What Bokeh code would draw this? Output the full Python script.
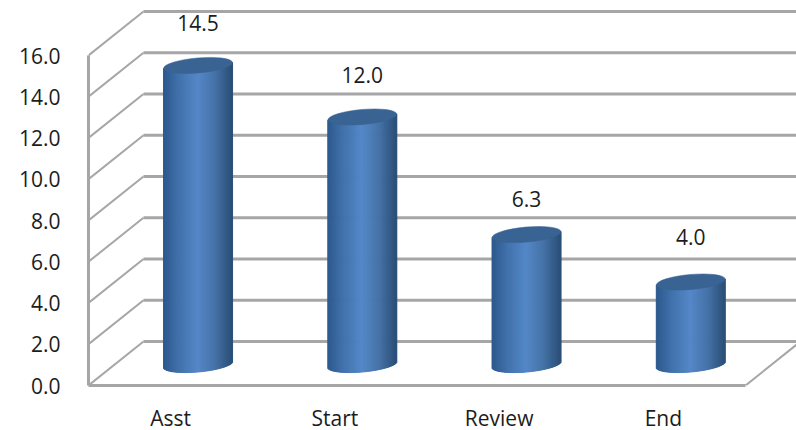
import numpy as np
from bokeh.embed import file_html
from bokeh.models import ColumnDataSource, FixedTicker, LinearAxis, Range1d
from bokeh.plotting import figure
from bokeh.resources import INLINE

categories = ["Asst", "Start", "Review", "End"]
values = [14.5, 12.0, 6.3, 4.0]
y_ticks = [0, 2, 4, 6, 8, 10, 12, 14, 16]

FONT = "Open Sans"
FONT_SIZE = "21px"
GREY = "#a6a6a6"
INK = "#1c1c1c"

# Pixel scale of the plot frame: one category slot and one value unit.
PX_X = 164.25
PX_Y = 20.625
FRAME_W, FRAME_H = 708, 385

# Oblique projection of the 3D box.
DEPTH_X = 55 / PX_X
DEPTH_Y = 44 / PX_Y
BAR_SHIFT_X = 0.167
BAR_BASE_Y = 21 / PX_Y

# Cylinder proportions.
HALF_W = 34.5 / PX_X
CAP_SEMI = 7.5 / PX_Y
CAP_TILT = 3 / PX_Y
CAP_ANGLE = np.arctan2(3, 34.5)
SHADE_T = [-1.0, -0.55, 0.0, 0.5, 1.0]
SHADE_R = [44, 66, 85, 70, 43]
SHADE_G = [88, 114, 136, 115, 78]
SHADE_B = [140, 172, 200, 168, 118]

p = figure(
    width=796, height=430,
    frame_width=FRAME_W, frame_height=FRAME_H,
    min_border_left=88, min_border_right=0, min_border_top=0, min_border_bottom=45,
    x_range=Range1d(0, FRAME_W / PX_X), y_range=Range1d(0, FRAME_H / PX_Y),
    x_axis_type=None, y_axis_type=None,
    output_backend="svg", toolbar_location=None,
)
p.outline_line_color = None
p.xgrid.visible = False
p.ygrid.visible = False
p.background_fill_color = "white"
p.border_fill_color = "white"

# Wall gridlines and the slanted side-wall lines.
ticks = np.array(y_ticks, dtype=float)
p.segment(x0=DEPTH_X, y0=ticks + DEPTH_Y, x1=FRAME_W / PX_X + 1, y1=ticks + DEPTH_Y,
          line_color=GREY, line_width=2.8)
p.segment(x0=0, y0=ticks, x1=DEPTH_X, y1=ticks + DEPTH_Y, line_color=GREY, line_width=2)
# Right-hand edge of the floor.
n_cat = len(categories)
p.segment(x0=[n_cat], y0=[0], x1=[n_cat + DEPTH_X], y1=[DEPTH_Y], line_color=GREY, line_width=2)

# Value axis on the front plane.
y_axis = LinearAxis(
    ticker=FixedTicker(ticks=y_ticks),
    major_label_overrides={t: f"{t:.1f}" for t in y_ticks},
    bounds=(0, 16),
    axis_line_color=GREY, axis_line_width=3,
    major_tick_line_color=None, minor_tick_line_color=None,
    major_label_text_font=FONT, major_label_text_font_size=FONT_SIZE,
    major_label_text_color=INK, major_label_standoff=22,
)
p.add_layout(y_axis, "left")

# Category axis on the front plane.
x_axis = LinearAxis(
    ticker=FixedTicker(ticks=[i + 0.5 for i in range(n_cat)]),
    major_label_overrides={i + 0.5: c for i, c in enumerate(categories)},
    bounds=(0, n_cat),
    axis_line_color=GREY, axis_line_width=3,
    major_tick_line_color=None, minor_tick_line_color=None,
    major_label_text_font=FONT, major_label_text_font_size=FONT_SIZE,
    major_label_text_color=INK, major_label_standoff=12,
)
p.add_layout(x_axis, "below")

# Cylinders: vertical colour strips under a tilted elliptical cap.
n_strips = 69
edges = np.linspace(-1, 1, n_strips + 1)
mids = (edges[:-1] + edges[1:]) / 2
shade = [
    "#%02x%02x%02x" % (int(r), int(g), int(b))
    for r, g, b in zip(np.interp(mids, SHADE_T, SHADE_R),
                       np.interp(mids, SHADE_T, SHADE_G),
                       np.interp(mids, SHADE_T, SHADE_B))
]
centers = np.arange(n_cat) + 0.5 + BAR_SHIFT_X
for cx, v in zip(centers, values):
    bottom = BAR_BASE_Y + CAP_TILT * mids - CAP_SEMI * np.sqrt(1 - mids ** 2)
    top = BAR_BASE_Y + v + CAP_TILT * mids
    source = ColumnDataSource(dict(
        left=cx + edges[:-1] * HALF_W, right=cx + edges[1:] * HALF_W,
        bottom=bottom, top=top, color=shade,
    ))
    p.quad(left="left", right="right", bottom="bottom", top="top", source=source,
           fill_color="color", line_color="color", line_width=1)

tops = np.array(values) + BAR_BASE_Y
p.ellipse(x=centers, y=tops, width=2 * HALF_W, height=2 * CAP_SEMI, angle=CAP_ANGLE,
          fill_color="#386393", line_color="#386393", line_width=0.5)

# Value labels above each cylinder.
p.text(x=centers, y=tops, text=[f"{v:.1f}" for v in values],
       y_offset=[-42, -42, -36, -45],
       text_align="center", text_baseline="middle",
       text_font={"value": FONT}, text_font_size=FONT_SIZE, text_color=INK)

open("out.html", "w").write(file_html(p, INLINE))
